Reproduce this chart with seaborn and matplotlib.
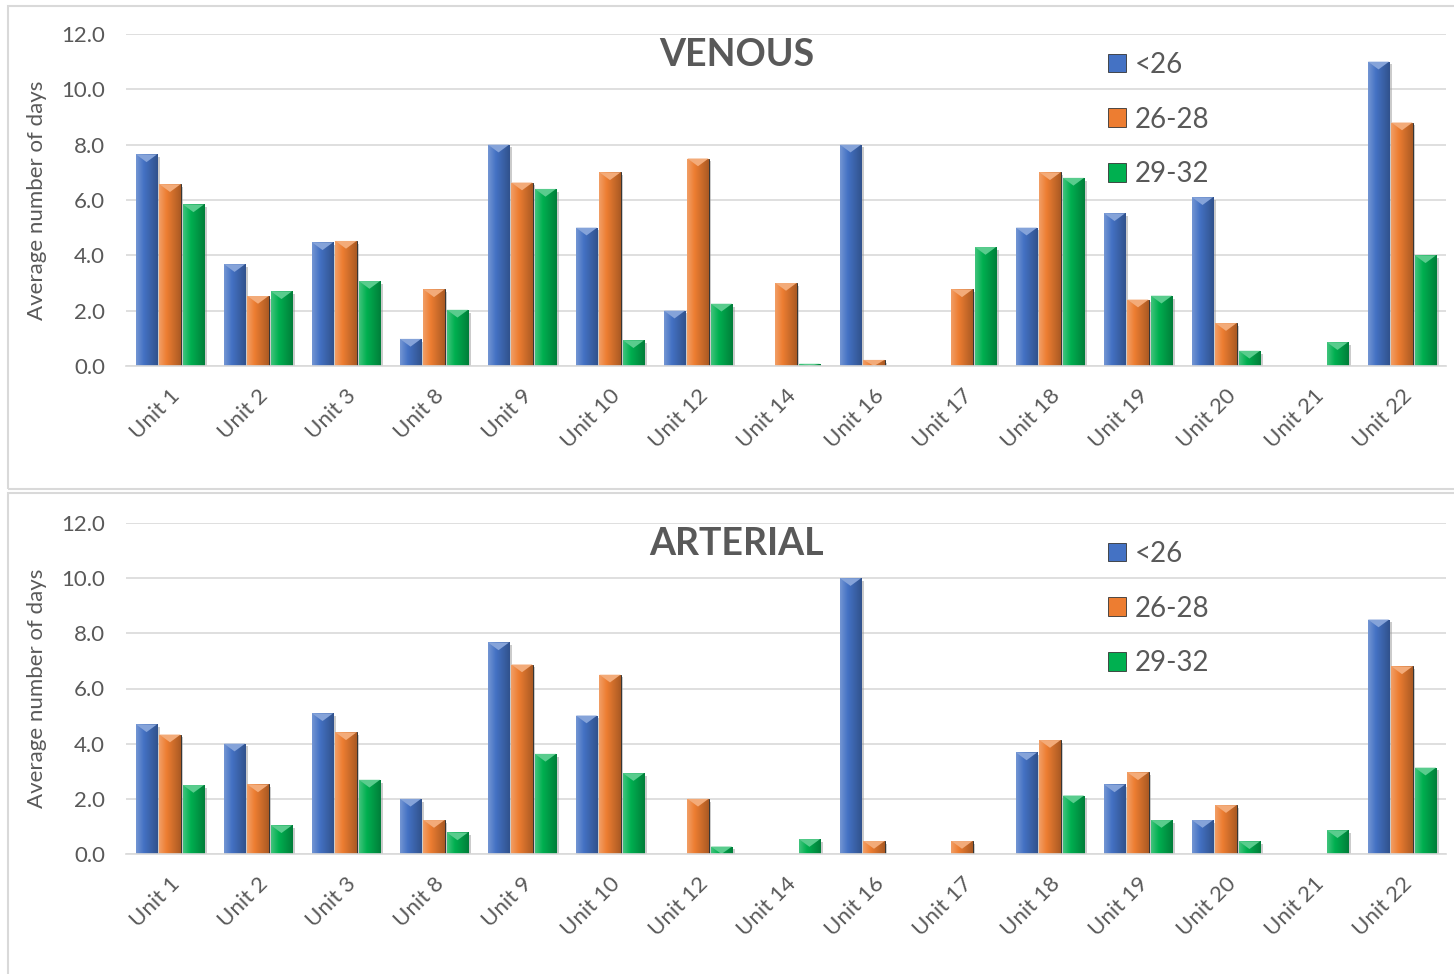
import numpy as np
import pandas as pd
import matplotlib.pyplot as plt
import matplotlib.patheffects as pe
from matplotlib.patches import Rectangle, Polygon
from matplotlib.colors import to_rgb
import seaborn as sns

units = ["Unit 1", "Unit 2", "Unit 3", "Unit 8", "Unit 9", "Unit 10", "Unit 12", "Unit 14",
         "Unit 16", "Unit 17", "Unit 18", "Unit 19", "Unit 20", "Unit 21", "Unit 22"]
groups = ["<26", "26-28", "29-32"]

# average number of days, nan = no bar for that unit / group
venous_lt26 = [7.65, 3.68, 4.47, 0.98, 8.0, 5.0, 2.0, np.nan, 8.0, np.nan, 5.0, 5.52, 6.1, np.nan, 11.0]
venous_26_28 = [6.57, 2.53, 4.52, 2.77, 6.63, 7.0, 7.5, 3.0, 0.22, 2.77, 7.0, 2.4, 1.55, np.nan, 8.8]
venous_29_32 = [5.84, 2.7, 3.07, 2.03, 6.4, 0.93, 2.25, 0.08, np.nan, 4.3, 6.8, 2.54, 0.55, 0.86, 4.0]

arterial_lt26 = [4.7, 4.0, 5.1, 2.0, 7.67, 5.02, np.nan, np.nan, 10.0, np.nan, 3.68, 2.52, 1.23, np.nan, 8.5]
arterial_26_28 = [4.33, 2.52, 4.41, 1.23, 6.87, 6.5, 2.0, np.nan, 0.47, 0.47, 4.13, 2.96, 1.77, np.nan, 6.8]
arterial_29_32 = [2.5, 1.04, 2.69, 0.78, 3.63, 2.93, 0.27, 0.54, np.nan, np.nan, 2.12, 1.23, 0.46, 0.86, 3.13]

colors = {"<26": "#4472C4", "26-28": "#ED7D31", "29-32": "#00B050"}
TXT = "#595959"
GRID = "#D9D9D9"

sns.set_theme(style="white")
plt.rcParams["font.family"] = ["Lato", "DejaVu Sans"]

W, H = 1454, 974


def to_long(a, b, c):
    rows = []
    for g, vals in zip(groups, [a, b, c]):
        for u, v in zip(units, vals):
            rows.append({"unit": u, "group": g, "days": v})
    return pd.DataFrame(rows)


def bevel(ax, patch, color):
    # fake the excel bevel: gradient across the bar + light triangle on top
    x0, y0 = patch.get_x(), patch.get_y()
    w, h = patch.get_width(), patch.get_height()
    if not np.isfinite(h) or h <= 0:
        return
    base = np.array(to_rgb(color))
    light = base + (1 - base) * 0.25
    dark = base * 0.72
    t = np.linspace(0, 1, 40)
    grad = np.where(t[:, None] < 0.35,
                    light + (base - light) * (t[:, None] / 0.35),
                    base + (dark - base) * ((t[:, None] - 0.35) / 0.65))
    im = ax.imshow(grad[None, :, :], extent=[x0, x0 + w, y0, y0 + h], aspect="auto",
                   zorder=patch.get_zorder() + 0.1, interpolation="bilinear")
    im.set_clip_path(patch)
    tri_h = min(h, 0.28)
    tri = Polygon([[x0, y0 + h], [x0 + w, y0 + h], [x0 + w / 2, y0 + h - tri_h]],
                  closed=True, facecolor=base + (1 - base) * 0.35, edgecolor="none",
                  zorder=patch.get_zorder() + 0.2)
    ax.add_patch(tri)


def panel(ax, df, title, y_top):
    sns.barplot(data=df, x="unit", y="days", hue="group", order=units, hue_order=groups,
                palette=colors, width=0.8, gap=0.1, errorbar=None, ax=ax,
                edgecolor="#333333", linewidth=0.7, legend=False)
    for cont, g in zip(ax.containers, groups):
        for p in cont.patches:
            p.set_path_effects([pe.SimplePatchShadow(offset=(2, -2), shadow_rgbFace="#999999", alpha=0.5),
                                pe.Normal()])
            bevel(ax, p, colors[g])
    ax.set_xlim(-0.5, len(units) - 0.5)
    ax.set_ylim(0, 12)
    ax.set_yticks(np.arange(0, 12.1, 2))
    ax.set_yticklabels([f"{v:.1f}" for v in np.arange(0, 12.1, 2)])
    ax.yaxis.grid(True, color=GRID, linewidth=1.2)
    ax.set_axisbelow(True)
    for s in ["top", "right", "left"]:
        ax.spines[s].set_visible(False)
    ax.spines["bottom"].set_color(GRID)
    ax.spines["bottom"].set_linewidth(1.2)
    ax.tick_params(axis="both", length=0, labelsize=16, colors=TXT)
    ax.tick_params(axis="y", pad=15)
    ax.tick_params(axis="x", pad=14)
    for lab in ax.get_xticklabels():
        lab.set_rotation(45)
        lab.set_ha("right")
        lab.set_rotation_mode("anchor")
    ax.set_xlabel("")
    ax.set_ylabel("Average number of days", fontsize=16, color=TXT, labelpad=10)
    fig.text(737 / W, 1 - y_top / H, title, ha="center", va="center", fontsize=27,
             fontweight="bold", color=TXT)
    handles = [Rectangle((0, 0), 1, 1, facecolor=colors[g], edgecolor="#333333", linewidth=0.6)
               for g in groups]
    ax.legend(handles, groups, loc="upper left", frameon=False, fontsize=20,
              bbox_to_anchor=(1094 / W, 1 - (y_top - 17) / H), bbox_transform=fig.transFigure,
              borderpad=0, handlelength=0.65, handleheight=0.65, handletextpad=0.3,
              labelspacing=1.03, labelcolor=TXT)


fig = plt.figure(figsize=(W / 100, H / 100), dpi=100)
ax1 = fig.add_axes([126 / W, 1 - 366 / H, 1320 / W, 332 / H])
ax2 = fig.add_axes([126 / W, 1 - 854 / H, 1320 / W, 331 / H])

panel(ax1, to_long(venous_lt26, venous_26_28, venous_29_32), "VENOUS", 55)
panel(ax2, to_long(arterial_lt26, arterial_26_28, arterial_29_32), "ARTERIAL", 544)

# chart area borders
fig.add_artist(Rectangle((8 / W, 1 - 489 / H), 1.0, 483 / H, transform=fig.transFigure,
                         fill=False, edgecolor=GRID, linewidth=1.5))
fig.add_artist(Rectangle((8 / W, 1 - 1000 / H), 1.0, 507 / H, transform=fig.transFigure,
                         fill=False, edgecolor=GRID, linewidth=1.5))

fig.savefig("out.png", dpi=100)
